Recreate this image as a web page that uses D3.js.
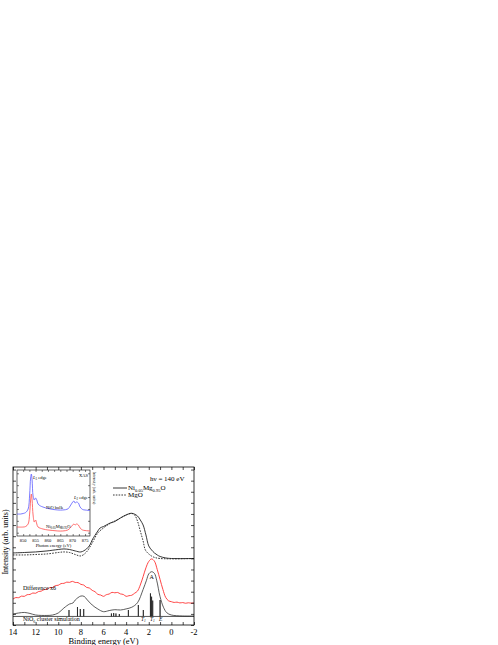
<!DOCTYPE html>
<html>
<head>
<meta charset="utf-8">
<script src="https://cdn.jsdelivr.net/npm/d3@7"></script>
<style>
body { margin: 0; background: #fff; }
svg text { font-family: "Liberation Serif", "DejaVu Serif", serif; fill: #000; }
</style>
</head>
<body>
<div class="chart"></div>
<script>
// main panel: binding energy (eV) vs intensity (arb. units)
var niMgO = [[14,6.49],[13,6.53],[12,6.58],[11,6.67],[10,6.80],[9.5,6.85],[9,6.80],[8.5,6.67],[8,6.58],
	[7.5,6.85],[7.2,7.21],[7,7.66],[6.5,8.47],[6.3,8.74],[6,8.87],[5.4,9.19],[5,9.32],[4.5,9.64],[4,9.91],
	[3.5,10.06],[3,9.82],[2.75,9.46],[2.5,9.01],[2.25,8.11],[2,7.12],[1.75,6.76],[1.5,6.49],[1.25,6.31],
	[1,6.17],[0.5,6.04],[0,5.99],[-2,5.99]];
var mgO = [[14,6.31],[13,6.31],[12,6.35],[11,6.40],[10,6.53],[9.5,6.58],[9,6.53],[8.5,6.35],[8,6.22],
	[7.5,6.58],[7,7.39],[6.5,8.29],[6,8.74],[5.5,9.10],[5,9.37],[4.5,9.64],[4,9.91],[3.5,10.05],[3.25,9.91],
	[3,9.37],[2.75,8.47],[2.5,7.57],[2.3,6.76],[2,6.40],[1.6,6.13],[1,5.99],[-2,5.99]];
var difference = [[14,2.34],[13.75,2.47],[13.5,2.46],[13.25,2.60],[13,2.58],[12.75,2.73],[12.5,2.75],[12.25,2.88],
	[12,2.86],[11.75,3.01],[11.5,3.05],[11.25,3.19],[11,3.21],[10.75,3.37],[10.5,3.38],[10.25,3.55],[10,3.58],
	[9.75,3.73],[9.5,3.75],[9.25,3.86],[9,3.84],[8.75,3.93],[8.5,3.83],[8.25,3.82],[8,3.66],[7.75,3.60],[7.5,3.39],
	[7.25,3.33],[7,3.12],[6.75,3.00],[6.5,2.76],[6.25,2.70],[6,2.58],[5.75,2.73],[5.5,2.79],[5.25,2.94],[5,2.90],
	[4.75,2.93],[4.5,2.80],[4.25,2.75],[4,2.58],[3.75,2.64],[3.5,2.68],[3.25,2.86],[3,3.05],[2.75,3.60],[2.5,4.35],
	[2.25,5.15],[2,5.72],[1.75,5.95],[1.5,5.75],[1.25,5.00],[1,4.10],[0.75,3.20],[0.5,2.48],[0.25,2.18],[0,2.10],
	[-0.25,2.03],[-0.5,2.06],[-0.75,1.99],[-1,2.02],[-1.25,1.96],[-1.5,2.00],[-1.75,1.97],[-2,1.99]];
var simBroad = [[14,0.99],[13.5,1.08],[13,1.13],[12.5,1.04],[12,0.90],[11,0.86],[10.5,0.90],[10,1.08],[9.5,1.53],
	[9,1.89],[8.7,1.98],[8.5,2.25],[8,2.61],[7.7,2.57],[7.5,2.34],[7,1.80],[6.5,1.44],[6,1.20],[5.5,1.30],[5,1.38],
	[4.5,1.35],[4,1.45],[3.5,1.60],[3,2.00],[2.5,3.20],[2.2,4.03],[2,4.60],[1.75,4.80],[1.5,4.65],[1.3,4.03],
	[1,2.55],[0.7,1.60],[0.4,1.10],[0,0.90],[-1,0.81],[-2,0.81]];
var stickBase = 0.77;
var stickEnergies = [9.05, 8.3, 8.05, 7.75, 5.3, 5.1, 4.9, 4.6, 3.8, 2.92, 2.48, 1.85, 1.75, 1.65, 1.0];
var stickTops = [1.35, 1.62, 1.44, 1.44, 1.04, 1.08, 1.04, 0.99, 1.35, 1.80, 1.35, 2.85, 2.55, 2.20, 2.25];
var xTickLabels = [14, 12, 10, 8, 6, 4, 2, 0, -2];

// inset: XAS, photon energy (eV)
var xasNiO = [[847.5,0.333],[849,0.333],[850,0.341],[851,0.356],[852,0.409],[852.6,0.621],[853,0.879],[853.3,0.939],
	[853.6,0.848],[854,0.606],[854.5,0.545],[855,0.576],[855.5,0.545],[856,0.485],[857,0.455],[858,0.439],[860,0.417],
	[862,0.402],[864,0.394],[866,0.394],[868,0.409],[869,0.455],[870,0.515],[870.5,0.530],[871,0.500],[871.6,0.515],
	[872.3,0.500],[873,0.439],[874,0.402],[875,0.394],[877,0.386]];
var xasNiMgO = [[847.5,0.136],[850,0.136],[851,0.144],[852,0.182],[852.6,0.333],[853,0.545],[853.3,0.636],[853.6,0.545],
	[854,0.318],[854.5,0.212],[855,0.242],[855.5,0.182],[856,0.136],[858,0.106],[860,0.091],[862,0.083],[864,0.076],
	[866,0.076],[868,0.091],[869,0.121],[870,0.167],[870.5,0.182],[871,0.167],[871.6,0.182],[872.3,0.167],[873,0.121],
	[874,0.091],[875,0.083],[877,0.076]];
var insetTickLabels = [850, 855, 860, 865, 870, 875];

var W = 498, H = 645;
var svg = d3.select('.chart').append('svg').attr('width', W).attr('height', H);

var mLeft = 13, mRight = 194, mTop = 467, mBottom = 625;
var x = d3.scaleLinear().domain([14, -2]).range([mLeft, mRight]);
var y = d3.scaleLinear().domain([0, 14.23]).range([mBottom, mTop]);

var line = d3.line()
	.x(function(d) { return x(d[0]); })
	.y(function(d) { return y(d[1]); })
	.curve(d3.curveCatmullRom.alpha(0.5));

svg.append('path').attr('d', line(difference))
	.style('fill', 'none').style('stroke', '#ff3030').style('stroke-width', 0.9);
svg.append('path').attr('d', line(simBroad))
	.style('fill', 'none').style('stroke', '#333').style('stroke-width', 0.8);
svg.append('path').attr('d', line(mgO))
	.style('fill', 'none').style('stroke', '#222').style('stroke-width', 0.9).style('stroke-dasharray', '1.6,1.2');
svg.append('path').attr('d', line(niMgO))
	.style('fill', 'none').style('stroke', '#222').style('stroke-width', 0.9);

// stick spectrum
var stickPath = d3.path();
stickPath.moveTo(x(14), y(stickBase));
for (var i = 0; i < stickEnergies.length; i++) {
	stickPath.lineTo(x(stickEnergies[i]), y(stickBase));
	stickPath.lineTo(x(stickEnergies[i]), y(stickTops[i]));
	stickPath.lineTo(x(stickEnergies[i]), y(stickBase));
}
stickPath.lineTo(x(-2), y(stickBase));
svg.append('path').attr('d', stickPath.toString())
	.style('fill', 'none').style('stroke', '#111').style('stroke-width', 0.7);

// frame + ticks
svg.append('rect').attr('x', mLeft).attr('y', mTop).attr('width', mRight - mLeft).attr('height', mBottom - mTop)
	.style('fill', 'none').style('stroke', '#000').style('stroke-width', 0.8);

var xTicks = d3.range(-2, 15, 1);
svg.append('g').attr('class', 'ax').attr('transform', 'translate(0,' + mBottom + ')')
	.call(d3.axisBottom(x).tickValues(xTicks).tickSize(-3).tickFormat(''));
svg.append('g').attr('class', 'ax').attr('transform', 'translate(0,' + mTop + ')')
	.call(d3.axisTop(x).tickValues(xTicks).tickSize(-3).tickFormat(''));
var yTicks = d3.range(0, 14.5, 1);
svg.append('g').attr('class', 'ax').attr('transform', 'translate(' + mLeft + ',0)')
	.call(d3.axisLeft(y).tickValues(yTicks).tickSize(-3).tickFormat(''));
svg.append('g').attr('class', 'ax').attr('transform', 'translate(' + mRight + ',0)')
	.call(d3.axisRight(y).tickValues(yTicks).tickSize(-3).tickFormat(''));
svg.selectAll('.ax .domain').remove();
svg.selectAll('.ax .tick line').style('stroke', '#000').style('stroke-width', 0.7);

svg.selectAll('.xlab').data(xTickLabels).enter().append('text')
	.attr('class', 'xlab')
	.attr('x', function(d) { return x(d); }).attr('y', 635)
	.attr('text-anchor', 'middle').style('font-size', '8.5px')
	.text(function(d) { return d; });

svg.append('text').attr('x', (mLeft + mRight) / 2).attr('y', 644).attr('text-anchor', 'middle')
	.style('font-size', '8.5px').text('Binding energy (eV)');
svg.append('text').attr('transform', 'translate(8,542) rotate(-90)').attr('text-anchor', 'middle')
	.style('font-size', '8px').text('Intensity (arb. units)');

// main annotations
svg.append('text').attr('x', 150).attr('y', 481).style('font-size', '7px').text('hν = 140 eV');
svg.append('line').attr('x1', 113).attr('x2', 127).attr('y1', 488).attr('y2', 488)
	.style('stroke', '#222').style('stroke-width', 0.9);
svg.append('line').attr('x1', 113).attr('x2', 127).attr('y1', 495).attr('y2', 495)
	.style('stroke', '#222').style('stroke-width', 0.9).style('stroke-dasharray', '1.6,1.2');
var lg = svg.append('text').attr('x', 128).attr('y', 490).style('font-size', '7px');
lg.append('tspan').text('Ni');
lg.append('tspan').attr('dy', 1.5).style('font-size', '4.5px').text('0.05');
lg.append('tspan').attr('dy', -1.5).text('Mg');
lg.append('tspan').attr('dy', 1.5).style('font-size', '4.5px').text('0.95');
lg.append('tspan').attr('dy', -1.5).text('O');
svg.append('text').attr('x', 128).attr('y', 497).style('font-size', '7px').text('MgO');

svg.append('text').attr('x', 23).attr('y', 590).style('font-size', '6px').text('Difference x6');
var sl = svg.append('text').attr('x', 23).attr('y', 621).style('font-size', '6px');
sl.append('tspan').text('NiO');
sl.append('tspan').attr('dy', 1.5).style('font-size', '4px').text('6');
sl.append('tspan').attr('dy', -1.5).text(' cluster simulation');
svg.append('text').attr('x', x(1.74)).attr('y', 579).attr('text-anchor', 'middle').style('font-size', '6px').text('A');

var tLabels = [[2.6, 'T', '1'], [1.8, 'T', '1'], [1.0, 'E', '']];
tLabels.forEach(function(t) {
	var tt = svg.append('text').attr('x', x(t[0]) - 1).attr('y', 621).style('font-size', '5.5px').style('font-style', 'italic');
	tt.append('tspan').text(t[1]);
	if (t[2]) tt.append('tspan').attr('dy', 1.2).style('font-size', '3.5px').text(t[2]);
});

// inset
var il = 17, ir = 90, it = 470, ib = 536;
var xi = d3.scaleLinear().domain([847.5, 877]).range([il, ir]);
var yi = d3.scaleLinear().domain([0, 1]).range([ib, it]);
var iline = d3.line().x(function(d) { return xi(d[0]); }).y(function(d) { return yi(d[1]); })
	.curve(d3.curveCatmullRom.alpha(0.5));

var inset = svg.append('g');
inset.append('rect').attr('x', il).attr('y', it).attr('width', ir - il).attr('height', ib - it)
	.style('fill', '#fff').style('stroke', '#000').style('stroke-width', 0.6);
inset.append('path').attr('d', iline(xasNiO)).style('fill', 'none').style('stroke', '#5a5aff').style('stroke-width', 0.8);
inset.append('path').attr('d', iline(xasNiMgO)).style('fill', 'none').style('stroke', '#ff4a4a').style('stroke-width', 0.8);

var ixTicks = d3.range(850, 877, 2.5);
inset.append('g').attr('class', 'iax').attr('transform', 'translate(0,' + ib + ')')
	.call(d3.axisBottom(xi).tickValues(ixTicks).tickSize(-2).tickFormat(''));
inset.append('g').attr('class', 'iax').attr('transform', 'translate(0,' + it + ')')
	.call(d3.axisTop(xi).tickValues(ixTicks).tickSize(-2).tickFormat(''));
var iyTicks = d3.range(0.05, 1, 0.18);
inset.append('g').attr('class', 'iax').attr('transform', 'translate(' + il + ',0)')
	.call(d3.axisLeft(yi).tickValues(iyTicks).tickSize(-2).tickFormat(''));
inset.append('g').attr('class', 'iax').attr('transform', 'translate(' + ir + ',0)')
	.call(d3.axisRight(yi).tickValues(iyTicks).tickSize(-2).tickFormat(''));
inset.selectAll('.iax .domain').remove();
inset.selectAll('.iax .tick line').style('stroke', '#000').style('stroke-width', 0.5);

inset.selectAll('.ixlab').data(insetTickLabels).enter().append('text')
	.attr('class', 'ixlab')
	.attr('x', function(d) { return xi(d); }).attr('y', 542)
	.attr('text-anchor', 'middle').style('font-size', '4.5px')
	.text(function(d) { return d; });
inset.append('text').attr('x', (il + ir) / 2).attr('y', 547).attr('text-anchor', 'middle')
	.style('font-size', '4.5px').text('Photon energy (eV)');
inset.append('text').attr('transform', 'translate(93,488) rotate(90)').attr('text-anchor', 'middle')
	.style('font-size', '4px').text('Intensity (arb. units)');
inset.append('text').attr('x', 88).attr('y', 477).attr('text-anchor', 'end').style('font-size', '4.5px').text('XAS');

var l3 = inset.append('text').attr('x', 33).attr('y', 479).style('font-size', '4.5px');
l3.append('tspan').style('font-style', 'italic').text('L');
l3.append('tspan').attr('dy', 1).style('font-size', '3px').text('3');
l3.append('tspan').attr('dy', -1).text(' edge');
var l2 = inset.append('text').attr('x', 74).attr('y', 499).style('font-size', '4.5px');
l2.append('tspan').style('font-style', 'italic').text('L');
l2.append('tspan').attr('dy', 1).style('font-size', '3px').text('2');
l2.append('tspan').attr('dy', -1).text(' edge');
inset.append('text').attr('x', 46).attr('y', 509).style('font-size', '4.5px').text('NiO bulk');
var nl = inset.append('text').attr('x', 46).attr('y', 528).style('font-size', '4.5px');
nl.append('tspan').text('Ni');
nl.append('tspan').attr('dy', 1).style('font-size', '3px').text('0.05');
nl.append('tspan').attr('dy', -1).text('Mg');
nl.append('tspan').attr('dy', 1).style('font-size', '3px').text('0.95');
nl.append('tspan').attr('dy', -1).text('O');
</script>
</body>
</html>
